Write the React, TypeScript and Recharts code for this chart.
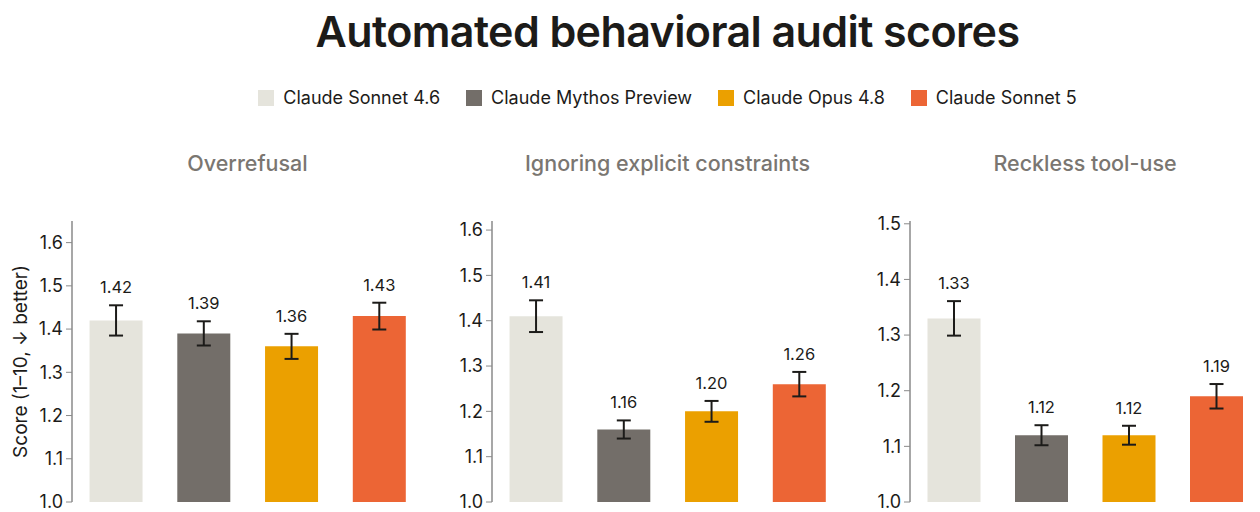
import { BarChart, Bar, XAxis, YAxis, ErrorBar, Cell, LabelList } from 'recharts'

// Automated behavioral audit scores: three small bar panels sharing one legend.
const models = ['Claude Sonnet 4.6', 'Claude Mythos Preview', 'Claude Opus 4.8', 'Claude Sonnet 5']
const modelColors = ['#e5e4dc', '#736e69', '#eba000', '#ec6535']

const panelTitles = ['Overrefusal', 'Ignoring explicit constraints', 'Reckless tool-use']

const overrefusalScores = [1.42, 1.39, 1.36, 1.43]
const overrefusalErrors = [0.035, 0.028, 0.029, 0.031]
const constraintScores = [1.41, 1.16, 1.2, 1.26]
const constraintErrors = [0.035, 0.02, 0.023, 0.027]
const recklessScores = [1.33, 1.12, 1.12, 1.19]
const recklessErrors = [0.031, 0.018, 0.017, 0.022]

const overrefusalTicks = [1.0, 1.1, 1.2, 1.3, 1.4, 1.5, 1.6]
const constraintTicks = [1.0, 1.1, 1.2, 1.3, 1.4, 1.5, 1.6]
const recklessTicks = [1.0, 1.1, 1.2, 1.3, 1.4, 1.5]

const FONT = 'Inter, "Open Sans", sans-serif'
const AXIS = '#8a8a8a'
const INK = '#1c1b19'

type PanelProps = {
  title: string
  scores: number[]
  errors: number[]
  ticks: number[]
  yMax: number
  left: number
  width: number
  yAxisWidth: number
  marginRight: number
  yLabel?: string
}

function Panel({ title, scores, errors, ticks, yMax, left, width, yAxisWidth, marginRight, yLabel }: PanelProps) {
  const rows = models.map((m, i) => ({ model: m, score: scores[i], err: errors[i] }))
  const plotCenter = left + yAxisWidth + (width - yAxisWidth - marginRight) / 2

  // value sits just above the top whisker; px-per-unit comes from the bar itself (base is 1.0)
  const renderValue = (props: any) => {
    const vb = props.viewBox ?? props
    const { x, y, width: w, height: h } = vb
    const idx = props.index
    const perUnit = h / (scores[idx] - 1)
    const whiskerTop = y - errors[idx] * perUnit
    return (
      <text x={x + w / 2} y={whiskerTop - 12} textAnchor="middle" fontSize={16.5} fill={INK} fontFamily={FONT}>
        {Number(props.value).toFixed(2)}
      </text>
    )
  }

  return (
    <>
      <div
        style={{
          position: 'absolute',
          left: plotCenter - 200,
          width: 400,
          top: 149,
          textAlign: 'center',
          fontFamily: FONT,
          fontSize: 21.5,
          fontWeight: 500,
          color: '#7a7671',
          lineHeight: '28px',
        }}
      >
        {title}
      </div>
      <div style={{ position: 'absolute', left, top: 200 }}>
        <BarChart
          width={width}
          height={312}
          data={rows}
          margin={{ top: 21, right: marginRight, bottom: 10, left: 0 }}
          barCategoryGap="20%"
          style={{ overflow: 'visible' }}
        >
          <XAxis dataKey="model" tick={false} tickLine={false} height={0} axisLine={{ stroke: AXIS, strokeWidth: 1.5 }} />
          <YAxis
            type="number"
            domain={[1, yMax]}
            ticks={ticks}
            interval={0}
            allowDataOverflow
            width={yAxisWidth}
            tickSize={6}
            tickMargin={3}
            tickFormatter={(v: number) => v.toFixed(1)}
            tick={{ fontSize: 18, fill: INK, fontFamily: FONT }}
            axisLine={{ stroke: AXIS, strokeWidth: 1.5 }}
            tickLine={{ stroke: AXIS }}
            label={
              yLabel
                ? {
                    content: (p: any) => {
                      const vb = p.viewBox
                      const cx = vb.x + 20
                      const cy = vb.y + vb.height / 2
                      return (
                        <text
                          x={cx}
                          y={cy}
                          transform={`rotate(-90 ${cx} ${cy})`}
                          textAnchor="middle"
                          dominantBaseline="central"
                          fontSize={19}
                          fill={INK}
                          fontFamily={FONT}
                        >
                          {yLabel}
                        </text>
                      )
                    },
                  }
                : undefined
            }
          />
          <Bar dataKey="score" isAnimationActive={false}>
            {rows.map((r, i) => (
              <Cell key={r.model} fill={modelColors[i]} />
            ))}
            <ErrorBar dataKey="err" direction="y" width={7} stroke={INK} strokeWidth={2} />
            <LabelList dataKey="score" content={renderValue} />
          </Bar>
        </BarChart>
      </div>
    </>
  )
}

export default function App() {
  return (
    <div style={{ position: 'absolute', left: 0, top: 0, width: 1260, height: 512, background: '#fff', overflow: 'hidden' }}>
      <div
        style={{
          position: 'absolute',
          left: 75,
          width: 1185,
          top: 5,
          textAlign: 'center',
          fontFamily: FONT,
          fontSize: 43,
          fontWeight: 600,
          letterSpacing: -0.6,
          color: INK,
          lineHeight: '52px',
        }}
      >
        Automated behavioral audit scores
      </div>
      <div
        style={{
          position: 'absolute',
          left: 75,
          width: 1185,
          top: 85,
          display: 'flex',
          justifyContent: 'center',
          gap: 26,
          fontFamily: FONT,
          fontSize: 18,
          color: INK,
          lineHeight: '26px',
        }}
      >
        {models.map((m, i) => (
          <div key={m} style={{ display: 'flex', alignItems: 'center', gap: 9 }}>
            <span style={{ width: 16, height: 16, background: modelColors[i], display: 'inline-block' }} />
            <span>{m}</span>
          </div>
        ))}
      </div>
      <Panel
        title={panelTitles[0]}
        scores={overrefusalScores}
        errors={overrefusalErrors}
        ticks={overrefusalTicks}
        yMax={1.65}
        left={0}
        width={430}
        yAxisWidth={72}
        marginRight={7}
        yLabel="Score (1–10, ↓ better)"
      />
      <Panel
        title={panelTitles[1]}
        scores={constraintScores}
        errors={constraintErrors}
        ticks={constraintTicks}
        yMax={1.62}
        left={430}
        width={420}
        yAxisWidth={62}
        marginRight={7}
      />
      <Panel
        title={panelTitles[2]}
        scores={recklessScores}
        errors={recklessErrors}
        ticks={recklessTicks}
        yMax={1.505}
        left={850}
        width={410}
        yAxisWidth={60}
        marginRight={0}
      />
    </div>
  )
}
